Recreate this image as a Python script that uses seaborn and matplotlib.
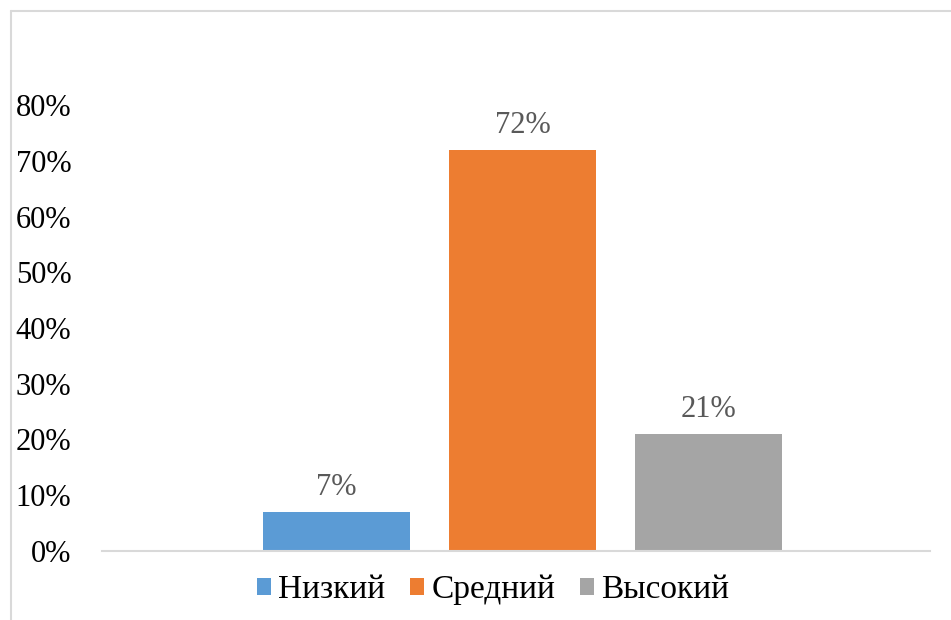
import pandas as pd
import seaborn as sns
from matplotlib import pyplot as plt
from matplotlib.lines import Line2D
from matplotlib.ticker import PercentFormatter

levels = ["Низкий", "Средний", "Высокий"]
shares = [0.07, 0.72, 0.21]
colors = ["#5B9BD5", "#ED7D31", "#A5A5A5"]
yticks = [0.0, 0.1, 0.2, 0.3, 0.4, 0.5, 0.6, 0.7, 0.8]

df = pd.DataFrame({"group": [""] * len(levels), "level": levels, "share": shares})

sns.set_theme(style="white")
plt.rcParams["font.family"] = ["Liberation Serif", "DejaVu Serif"]

fig = plt.figure(figsize=(9.51, 6.20), dpi=100)
ax = fig.add_axes([102 / 951, 69 / 620, 828 / 951, 501.75 / 620])

sns.barplot(data=df, x="group", y="share", hue="level", hue_order=levels,
            palette=colors, width=0.674, gap=0.21, saturation=1, linewidth=0, ax=ax)

for cont in ax.containers:
    ax.bar_label(cont, labels=[f"{v:.0%}" for v in cont.datavalues],
                 padding=7, fontsize=22, color="#595959")

ax.set_xlim(-0.508, 0.492)
ax.set_ylim(0, 0.9)
ax.set_yticks(yticks)
ax.yaxis.set_major_formatter(PercentFormatter(1.0, decimals=0))
ax.tick_params(axis="y", labelsize=22, labelcolor="black", length=0, pad=22)
ax.set_xticks([])
ax.set_xlabel("")
ax.set_ylabel("")
for s in ["top", "right", "left"]:
    ax.spines[s].set_visible(False)
ax.spines["bottom"].set_color("#D9D9D9")
ax.spines["bottom"].set_linewidth(1.5)

handles, labels = ax.get_legend_handles_labels()
leg = ax.legend(handles, labels, loc="center", bbox_to_anchor=(493 / 951, 30 / 620),
                bbox_transform=fig.transFigure, ncol=3, frameon=False, fontsize=24,
                handlelength=0.42, handleheight=0.42, handletextpad=0.22, columnspacing=0.75)
for t in leg.get_texts():
    t.set_color("black")

# chart area border (only left and top visible in the crop)
fig.add_artist(Line2D([11 / 951, 11 / 951], [0, 1 - 11 / 620], transform=fig.transFigure,
                      color="#D9D9D9", lw=1.5))
fig.add_artist(Line2D([11 / 951, 1], [1 - 11 / 620, 1 - 11 / 620], transform=fig.transFigure,
                      color="#D9D9D9", lw=1.5))

fig.savefig("out.png", dpi=100)
